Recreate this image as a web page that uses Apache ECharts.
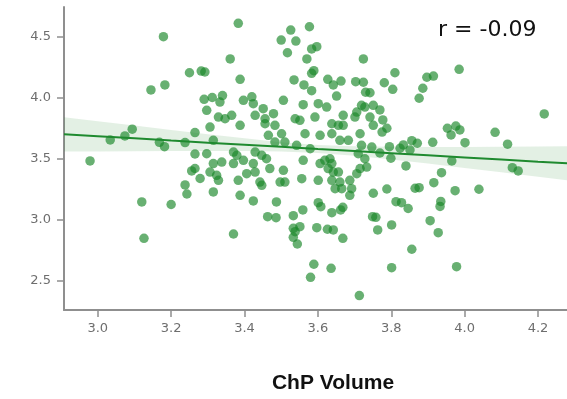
<!DOCTYPE html>
<html>
<head>
<meta charset="utf-8">
<script src="https://cdn.jsdelivr.net/npm/echarts@6/dist/echarts.min.js"></script>
<style>
  html, body { margin: 0; padding: 0; background: #fff; }
  #chart { width: 567px; height: 399px; }
</style>
</head>
<body>
<div id="chart"></div>
<script>
// ChP volume (x) against the outcome score (y), one dot per subject
const chpVolume = [
  3.179,3.250,3.183,3.145,2.979,3.034,3.074,3.094,3.168,3.182,3.238,3.120,3.200,3.126,3.238,3.243,3.265,3.265,3.256,3.265,
  3.279,3.383,3.526,3.577,3.500,3.540,3.597,3.583,3.517,3.570,3.724,3.361,3.282,3.292,3.589,3.583,3.388,3.535,3.562,3.583,
  3.627,3.642,3.663,3.703,3.724,3.781,3.730,3.742,3.651,3.312,3.340,3.420,3.290,3.985,3.810,3.804,3.897,3.915,3.886,3.876,
  4.217,3.953,3.976,3.987,3.963,4.083,4.117,3.913,4.001,3.856,3.871,3.833,3.824,3.795,3.851,3.799,3.965,4.130,4.146,3.840,
  3.937,3.916,3.788,3.865,3.876,3.974,4.039,3.813,3.828,3.846,3.935,3.933,3.769,3.777,3.788,3.775,3.769,3.801,3.906,3.928,
  3.856,3.801,3.978,3.424,3.487,3.601,3.608,3.668,3.662,3.749,3.758,3.463,3.486,3.533,3.559,3.638,3.370,3.533,3.551,3.538,
  3.533,3.544,3.597,3.626,3.642,3.668,3.763,3.589,3.636,3.580,3.713,3.333,3.397,3.424,3.451,3.506,3.297,3.329,3.347,3.365,
  3.429,3.456,3.479,3.306,3.388,3.456,3.483,3.315,3.465,3.501,3.483,3.510,3.297,3.370,3.379,3.429,3.447,3.460,3.338,3.315,
  3.370,3.397,3.424,3.306,3.324,3.406,3.429,3.469,3.506,3.329,3.383,3.442,3.447,3.497,3.510,3.315,3.388,3.560,3.601,3.624,
  3.719,3.728,3.751,3.706,3.538,3.551,3.592,3.669,3.701,3.742,3.638,3.656,3.669,3.751,3.565,3.606,3.638,3.660,3.683,3.715,
  3.542,3.579,3.719,3.710,3.747,3.560,3.606,3.619,3.633,3.638,3.728,3.628,3.642,3.656,3.715,3.733,3.556,3.601,3.638,3.660,
  3.687,3.706,3.647,3.665,3.692,3.687,3.751
];
const score = [
  4.503,4.207,4.107,4.066,3.484,3.656,3.689,3.744,3.637,3.601,3.635,3.148,3.127,2.850,3.287,3.213,3.717,3.541,3.402,3.422,
  3.340,4.612,4.557,4.584,4.475,4.467,4.421,4.402,4.371,4.320,4.320,4.320,4.221,4.213,4.224,4.202,4.153,4.148,4.107,4.060,
  4.153,4.107,4.139,4.134,4.129,4.125,4.047,4.043,4.016,4.004,4.020,4.010,3.989,4.235,4.207,4.071,4.170,4.180,4.080,3.998,
  3.869,3.752,3.770,3.738,3.697,3.719,3.621,3.637,3.634,3.650,3.629,3.615,3.588,3.601,3.574,3.506,3.484,3.429,3.402,3.443,
  3.388,3.306,3.254,3.260,3.265,3.240,3.252,3.150,3.142,3.094,3.152,3.111,3.902,3.820,3.752,3.721,3.549,2.959,2.994,2.896,
  2.760,2.609,2.617,3.156,3.148,3.142,3.109,3.104,3.082,3.027,3.022,3.027,3.019,3.035,3.082,3.060,2.885,2.932,2.945,2.904,
  2.858,2.803,2.937,2.924,2.918,2.850,2.918,2.637,2.604,2.530,2.380,3.967,3.981,3.953,3.912,3.981,3.899,3.844,3.830,3.858,
  3.858,3.830,3.871,3.762,3.776,3.789,3.776,3.653,3.694,3.707,3.639,3.639,3.543,3.557,3.530,3.557,3.530,3.502,3.475,3.462,
  3.462,3.489,3.462,3.393,3.366,3.380,3.393,3.421,3.407,3.325,3.325,3.311,3.284,3.311,3.311,3.230,3.202,3.945,3.953,3.926,
  3.940,3.926,3.940,3.885,3.830,3.817,3.844,3.858,3.844,3.844,3.789,3.776,3.776,3.776,3.707,3.694,3.707,3.653,3.653,3.707,
  3.612,3.584,3.612,3.543,3.598,3.489,3.462,3.489,3.502,3.462,3.502,3.421,3.393,3.393,3.421,3.434,3.339,3.325,3.325,3.311,
  3.325,3.380,3.257,3.257,3.257,3.202,3.219
];

// Fitted regression line with its 95% confidence band
const fitX     = [2.908, 3.0,   3.1,   3.2,   3.3,   3.4,   3.5,   3.6,   3.7,   3.8,   3.9,   4.0,   4.1,   4.2,   4.279];
const fitY     = [3.702, 3.686, 3.669, 3.651, 3.634, 3.617, 3.600, 3.582, 3.565, 3.548, 3.531, 3.513, 3.496, 3.478, 3.465];
const bandLow  = [3.561, 3.562, 3.564, 3.565, 3.566, 3.565, 3.561, 3.549, 3.527, 3.496, 3.463, 3.427, 3.391, 3.354, 3.326];
const bandHigh = [3.843, 3.810, 3.774, 3.737, 3.702, 3.669, 3.638, 3.615, 3.604, 3.600, 3.599, 3.599, 3.601, 3.602, 3.604];

const xTicks = [3.0, 3.2, 3.4, 3.6, 3.8, 4.0, 4.2];
const yTicks = [2.5, 3.0, 3.5, 4.0, 4.5];
const rLabel = 'r = -0.09';
const xTitle = 'ChP Volume';

const points = chpVolume.map((v, i) => [v, score[i]]);
const fitLine = fitX.map((v, i) => [v, fitY[i]]);
const bandData = [fitX.map((v, i) => [v, bandLow[i], bandHigh[i]])];

const axisGrey = '#8f8f8f';
const labelGrey = '#6e6e6e';
const green = '#1f8a2f';

const chart = echarts.init(document.getElementById('chart'), null, { renderer: 'canvas' });

chart.setOption({
  animation: false,
  backgroundColor: '#ffffff',
  grid: { left: 64, right: 0, top: 7, bottom: 89 },
  xAxis: {
    type: 'value',
    min: 2.908,
    max: 4.279,
    splitLine: { show: false },
    axisLine: { show: true, lineStyle: { color: axisGrey, width: 2 } },
    axisTick: { show: true, length: 7, customValues: xTicks, lineStyle: { color: axisGrey, width: 1.5 } },
    axisLabel: {
      customValues: xTicks,
      margin: 12,
      color: labelGrey,
      fontFamily: 'DejaVu Sans',
      fontSize: 13,
      formatter: v => v.toFixed(1)
    }
  },
  yAxis: {
    type: 'value',
    min: 2.262,
    max: 4.746,
    splitLine: { show: false },
    axisLine: { show: true, lineStyle: { color: axisGrey, width: 2 } },
    axisTick: { show: true, length: 7, customValues: yTicks, lineStyle: { color: axisGrey, width: 1.5 } },
    axisLabel: {
      customValues: yTicks,
      margin: 13,
      color: labelGrey,
      fontFamily: 'DejaVu Sans',
      fontSize: 13,
      formatter: v => v.toFixed(1)
    }
  },
  series: [
    {
      // confidence band drawn as one polygon through the axis scales
      type: 'custom',
      z: 1,
      silent: true,
      data: bandData,
      encode: { x: -1, y: -1 },
      renderItem: function (params, api) {
        const rows = bandData[0];
        const upper = rows.map(r => api.coord([r[0], r[2]]));
        const lower = rows.slice().reverse().map(r => api.coord([r[0], r[1]]));
        return {
          type: 'polygon',
          shape: { points: upper.concat(lower) },
          style: { fill: 'rgba(40,140,50,0.13)', stroke: 'none' }
        };
      },
      clip: true
    },
    {
      type: 'scatter',
      z: 2,
      data: points,
      symbol: 'circle',
      symbolSize: 9.5,
      itemStyle: { color: 'rgba(25,135,40,0.82)' }
    },
    {
      type: 'line',
      z: 3,
      data: fitLine,
      showSymbol: false,
      smooth: false,
      lineStyle: { color: green, width: 2 },
      clip: true
    }
  ],
  graphic: [
    {
      type: 'text',
      left: 438,
      top: 19,
      style: {
        text: rLabel,
        fill: '#111',
        font: '22px "DejaVu Sans"'
      }
    },
    {
      type: 'text',
      x: 333,
      y: 383,
      style: {
        text: xTitle,
        fill: '#111',
        font: 'bold 21px "Liberation Sans"',
        textAlign: 'center',
        textVerticalAlign: 'middle'
      }
    }
  ]
});
</script>
</body>
</html>
